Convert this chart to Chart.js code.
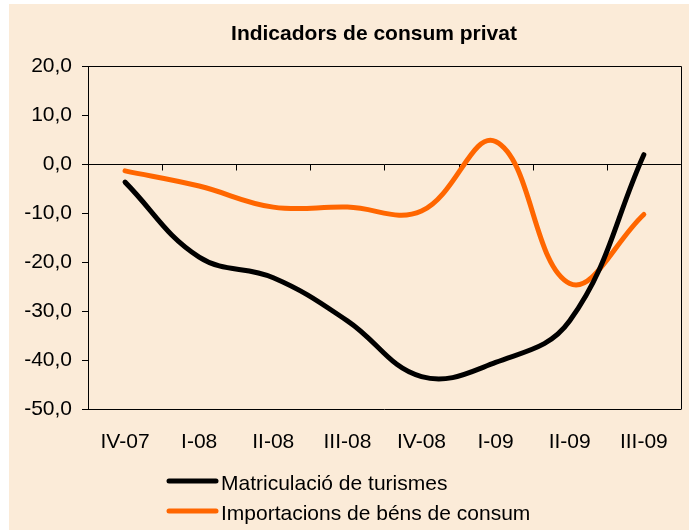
<!DOCTYPE html>
<html>
<head>
<meta charset="utf-8">
<script src="https://cdn.jsdelivr.net/npm/chart.js@4"></script>
<style>
  html, body { margin: 0; padding: 0; background: #ffffff; }
  canvas { display: block; }
</style>
</head>
<body>
<canvas id="c" width="689" height="530"></canvas>
<script>
const chartTitle = "Indicadors de consum privat";
const categories = ["IV-07", "I-08", "II-08", "III-08", "IV-08", "I-09", "II-09", "III-09"];
const seriesNames = ["Matriculació de turismes", "Importacions de béns de consum"];
const matriculacio = [-3.7, -19.0, -23.2, -32.0, -43.4, -40.5, -32.0, 1.9];
const importacions = [-1.4, -4.5, -8.8, -8.8, -9.6, 4.6, -24.4, -10.3];
const yMin = -50, yMax = 20, yStep = 10;

const FONT = "'Liberation Sans', Arial, sans-serif";
const BG = "#FBEBD8";

const decor = {
  id: "decor",
  beforeDraw(chart) {
    const ctx = chart.ctx;
    ctx.save();
    ctx.fillStyle = "#ffffff";
    ctx.fillRect(0, 0, chart.width, chart.height);
    ctx.fillStyle = BG;
    ctx.fillRect(9, 4, chart.width - 9, chart.height - 4);
    ctx.fillStyle = "#000";
    ctx.font = "bold 21px " + FONT;
    ctx.textAlign = "center";
    ctx.textBaseline = "middle";
    ctx.fillText(chartTitle, 374, 34);
    ctx.restore();
  },
  beforeDatasetsDraw(chart) {
    const ctx = chart.ctx, a = chart.chartArea;
    const xs = chart.scales.x, ys = chart.scales.y;
    const y0 = Math.round(ys.getPixelForValue(0)) + 0.5;
    ctx.save();
    ctx.strokeStyle = "#000";
    ctx.lineWidth = 1;
    ctx.beginPath();
    ctx.moveTo(a.left, y0);
    ctx.lineTo(a.right, y0);
    for (let i = 0; i < categories.length - 1; i++) {
      const x = Math.round(xs.getPixelForValue(i + 0.5)) + 0.5;
      ctx.moveTo(x, y0);
      ctx.lineTo(x, y0 + 6);
    }
    ctx.stroke();
    ctx.beginPath();
    ctx.moveTo(Math.round(a.left) + 0.5, Math.round(a.top) + 0.5);
    ctx.lineTo(Math.round(a.right) + 0.5, Math.round(a.top) + 0.5);
    ctx.lineTo(Math.round(a.right) + 0.5, Math.round(a.bottom) + 0.5);
    ctx.stroke();
    ctx.restore();
  },
  afterDraw(chart) {
    const ctx = chart.ctx;
    const rows = [481, 511];
    ctx.save();
    chart.data.datasets.forEach((ds, i) => {
      ctx.strokeStyle = ds.borderColor;
      ctx.lineWidth = 5;
      ctx.lineCap = "round";
      ctx.beginPath();
      ctx.moveTo(169, rows[i]);
      ctx.lineTo(216, rows[i]);
      ctx.stroke();
      ctx.fillStyle = "#000";
      ctx.font = "21px " + FONT;
      ctx.textAlign = "left";
      ctx.textBaseline = "middle";
      ctx.fillText(ds.label, 221, rows[i] + 3);
    });
    ctx.restore();
  }
};

new Chart(document.getElementById("c"), {
  type: "line",
  data: {
    labels: categories,
    datasets: [
      { label: seriesNames[0], data: matriculacio, borderColor: "#000000", backgroundColor: "#000000",
        borderWidth: 5, pointRadius: 0, tension: 0.4, borderCapStyle: "round", fill: false },
      { label: seriesNames[1], data: importacions, borderColor: "#FF6600", backgroundColor: "#FF6600",
        borderWidth: 5, pointRadius: 0, tension: 0.4, borderCapStyle: "round", fill: false }
    ]
  },
  options: {
    responsive: false,
    devicePixelRatio: 1,
    animation: false,
    layout: { padding: { left: 0, top: 66, right: 4, bottom: 0 } },
    plugins: { legend: { display: false }, title: { display: false }, tooltip: { enabled: false } },
    scales: {
      x: {
        offset: true,
        grid: { display: false, drawTicks: false },
        border: { display: true, color: "#000", width: 1 },
        ticks: { color: "#000", font: { family: FONT, size: 21 }, padding: 21, maxRotation: 0, autoSkip: false },
        afterFit(s) { s.height = 121; }
      },
      y: {
        min: yMin, max: yMax,
        grid: { display: true, drawOnChartArea: false, drawTicks: true, tickLength: 6, color: "#000" },
        border: { display: true, color: "#000", width: 1 },
        ticks: { stepSize: yStep, color: "#000", font: { family: FONT, size: 21 }, padding: 10,
          callback: v => v.toFixed(1).replace(".", ",") },
        afterFit(s) { s.width = 88; }
      }
    }
  },
  plugins: [decor]
});
</script>
</body>
</html>
